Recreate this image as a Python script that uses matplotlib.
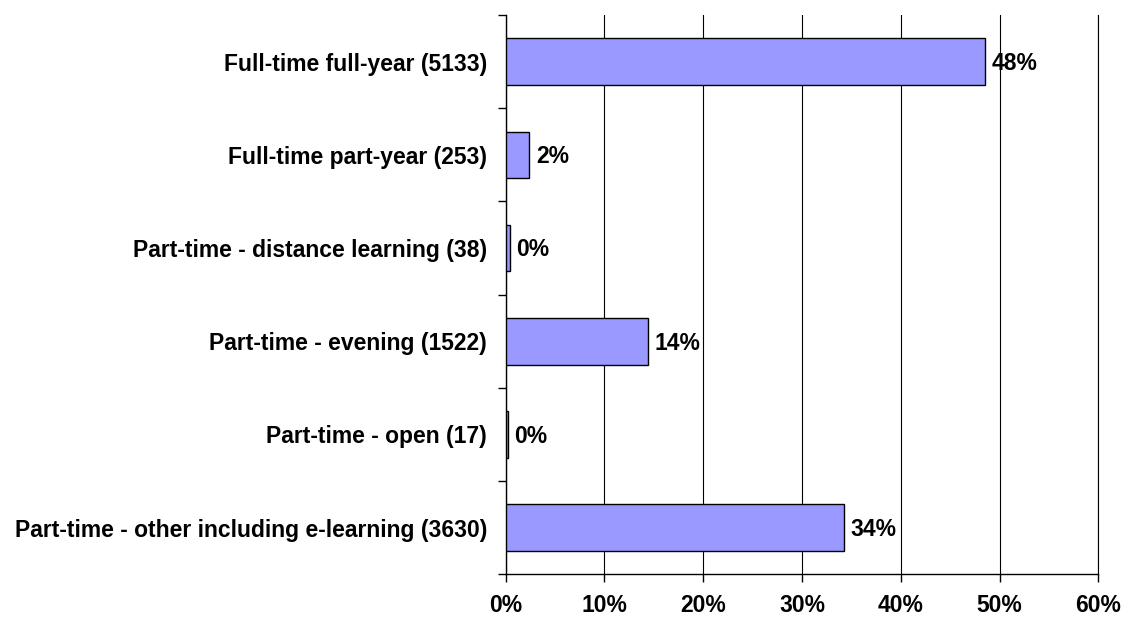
import matplotlib.pyplot as plt
from matplotlib.ticker import FixedLocator, PercentFormatter

categories = [
    'Full-time full-year (5133)',
    'Full-time part-year (253)',
    'Part-time - distance learning (38)',
    'Part-time - evening (1522)',
    'Part-time - open (17)',
    'Part-time - other including e-learning (3630)',
]
pct_values = [48.5, 2.4, 0.4, 14.4, 0.2, 34.3]
pct_labels = ['48%', '2%', '0%', '14%', '0%', '34%']
x_ticks = [0, 10, 20, 30, 40, 50, 60]

plt.rcParams['font.family'] = ['Liberation Sans', 'DejaVu Sans']
plt.rcParams['font.weight'] = 'bold'
fs = 16.5

fig = plt.figure(figsize=(11.23, 6.19), dpi=100)
ax = fig.add_axes([0.4503, 0.0722, 0.5277, 0.9036])

ypos = list(range(len(categories)))
ax.barh(ypos, pct_values, height=0.5, color='#9999FF', edgecolor='black', linewidth=1, zorder=3)

# value labels just right of each bar
for y, v, lab in zip(ypos, pct_values, pct_labels):
    ax.text(v + 0.65, y + 0.02, lab, va='center', ha='left', fontsize=fs, fontweight='bold', zorder=4)

ax.set_ylim(len(categories) - 0.5, -0.5)
ax.set_xlim(0, 60)
ax.set_yticks(ypos)
ax.set_yticklabels(categories, fontsize=fs, fontweight='bold')
ax.yaxis.set_minor_locator(FixedLocator([i - 0.5 for i in range(len(categories) + 1)]))
ax.tick_params(axis='y', which='major', length=0, pad=13.5)
ax.tick_params(axis='y', which='minor', length=6, width=1, direction='out')

ax.set_xticks(x_ticks)
ax.xaxis.set_major_formatter(PercentFormatter(decimals=0))
ax.tick_params(axis='x', length=6, width=1, direction='out', pad=8, labelsize=fs)
for lab in ax.get_xticklabels():
    lab.set_fontweight('bold')

ax.grid(axis='x', color='black', linewidth=0.8, zorder=0)
ax.axvline(60, color='black', linewidth=0.8, clip_on=False, zorder=0)
ax.spines['top'].set_visible(False)
ax.spines['right'].set_visible(False)
ax.spines['left'].set_linewidth(1)
ax.spines['bottom'].set_linewidth(1)

fig.savefig('out.png', dpi=100)
